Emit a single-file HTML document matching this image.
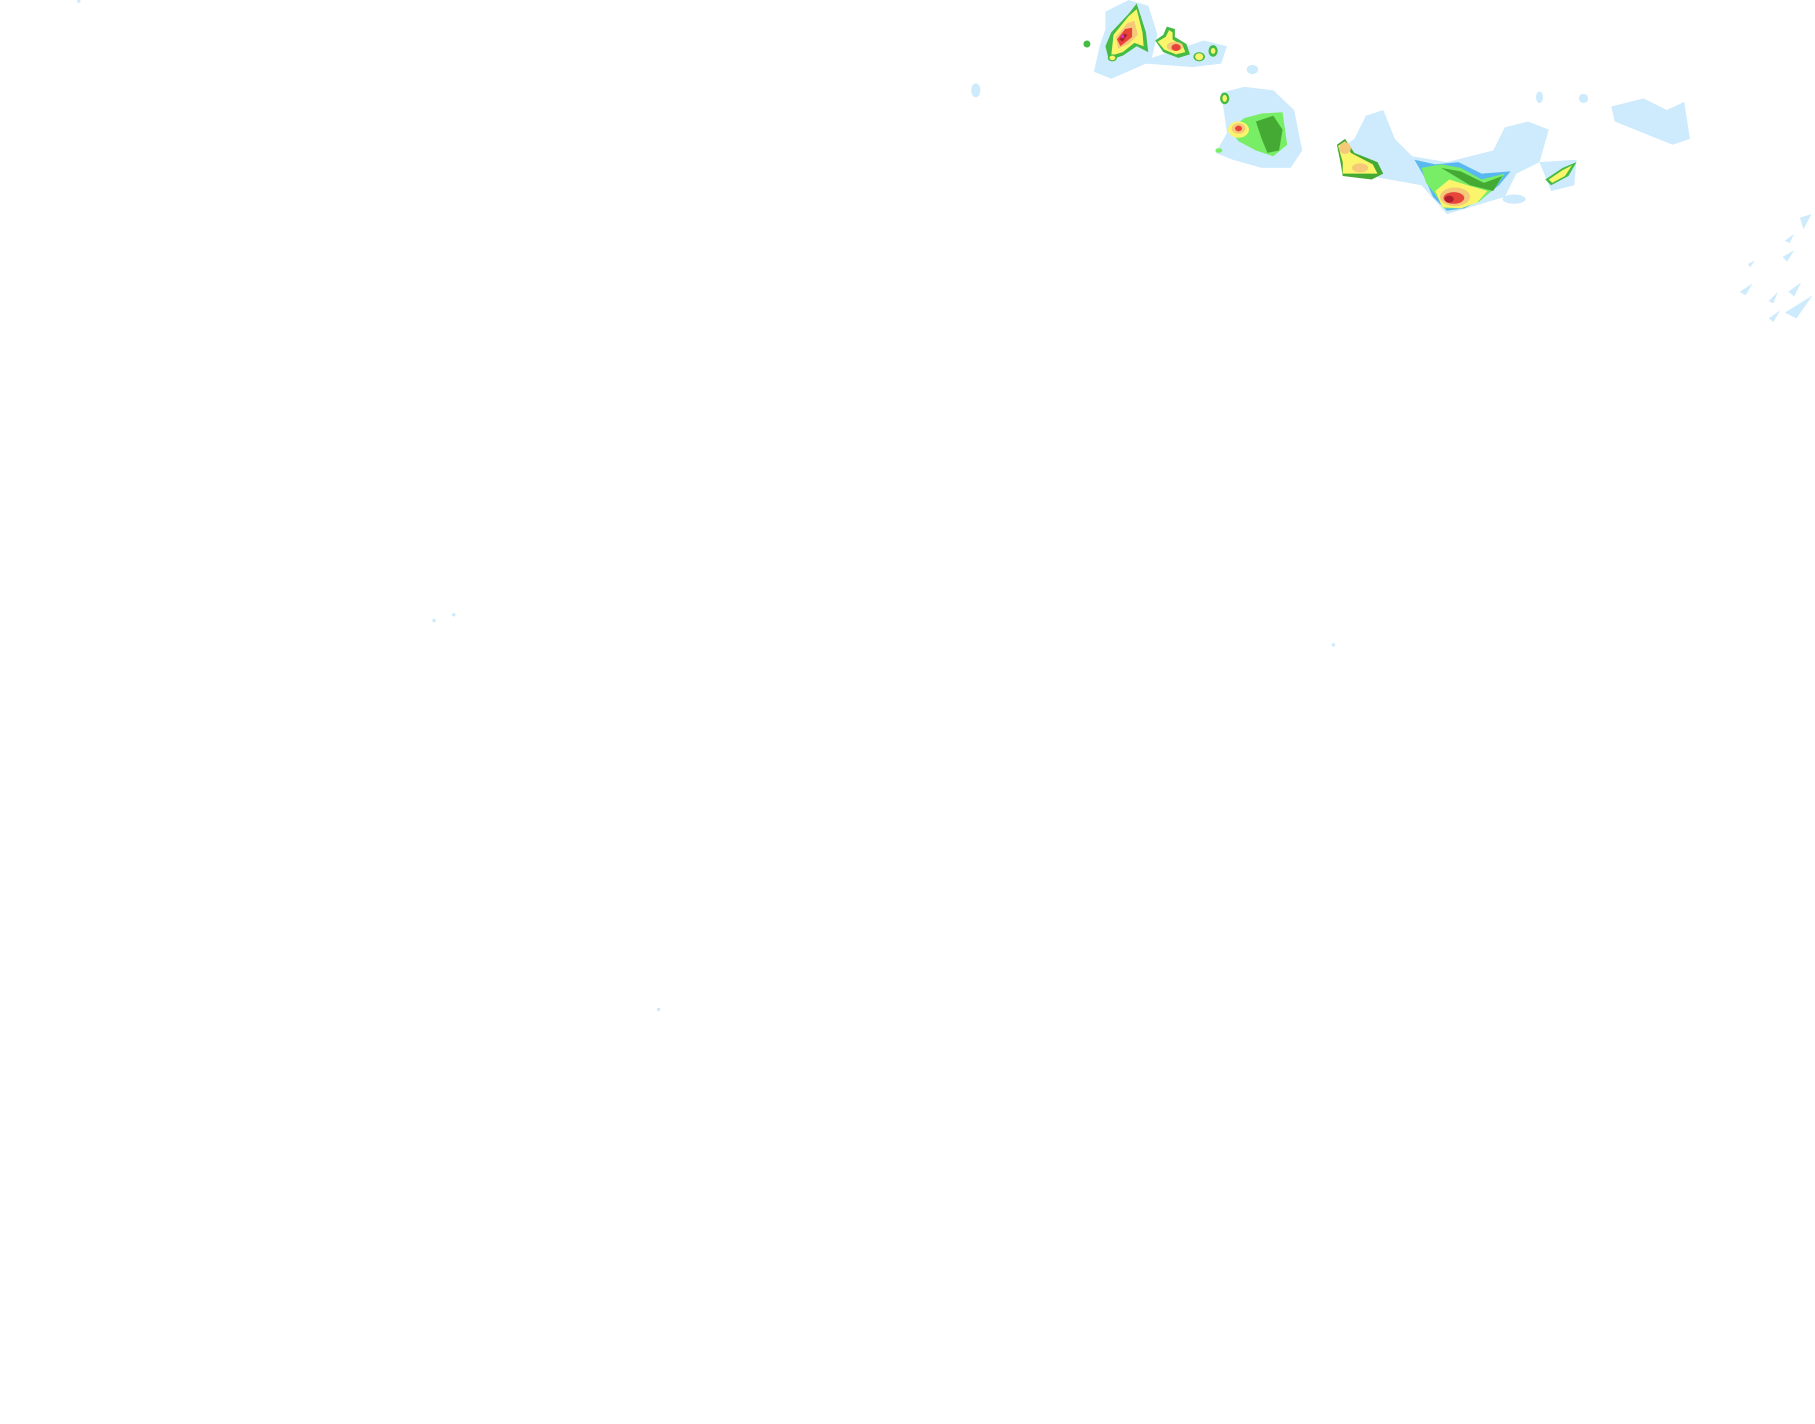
<!DOCTYPE html>
<html><head><style>html,body{margin:0;padding:0;background:#fff;}svg{display:block}</style></head>
<body>
<svg width="1815" height="1424" viewBox="0 0 1568 1230" preserveAspectRatio="none" xmlns="http://www.w3.org/2000/svg">
<rect width="1568" height="1230" fill="#fff"/>
<g fill="#cdebfc">
<path d="M955 10 L975 0 L992 5 L1000 30 L995 50 L1010 45 L1040 35 L1060 40 L1055 55 L1030 58 L990 55 L960 68 L945 62 L950 40 L955 25Z"/>
<path d="M1055 80 L1075 75 L1100 78 L1118 95 L1125 130 L1115 145 L1090 145 L1065 138 L1050 132 L1060 115Z"/>
<path d="M1180 100 L1195 95 L1205 120 L1220 135 L1250 140 L1290 130 L1300 110 L1320 105 L1338 112 L1330 140 L1310 150 L1300 170 L1250 185 L1228 160 L1200 155 L1170 150 L1155 130 L1170 120Z"/>
<path d="M1330 140 L1362 138 L1360 160 L1340 165Z"/>
<path d="M1392 92 L1420 85 L1440 95 L1455 88 L1460 120 L1445 125 L1420 115 L1395 105Z"/>
<ellipse cx="843" cy="78" rx="4" ry="6"/>
<ellipse cx="1308" cy="172" rx="10" ry="4"/>
<ellipse cx="1330" cy="84" rx="3" ry="5"/>
<ellipse cx="1368" cy="85" rx="4" ry="4"/>
<ellipse cx="1082" cy="60" rx="5" ry="4"/>
<path d="M1555 188 L1565 185 L1558 198Z"/>
<path d="M1542 208 L1550 202 L1546 210Z"/>
<path d="M1540 222 L1550 216 L1544 226Z"/>
<path d="M1510 228 L1516 225 L1512 231Z"/>
<path d="M1503 252 L1514 245 L1508 255Z"/>
<path d="M1528 260 L1536 252 L1532 262Z"/>
<path d="M1545 252 L1556 244 L1550 256Z"/>
<path d="M1528 275 L1538 268 L1532 278Z"/>
<path d="M1542 270 L1566 255 L1552 275Z"/>
</g>
<!-- storm 1 -->
<path d="M960 28 L975 12 L982 3 L990 28 L992 45 L982 40 L970 48 L958 52 L955 40Z" fill="#44bb44"/>
<path d="M962 30 L975 14 L982 8 L987 28 L988 40 L980 37 L970 45 L960 48Z" fill="#fbf56c"/>
<path d="M964 32 L974 20 L980 18 L983 30 L975 38 L966 42Z" fill="#f5c87a"/>
<path d="M965 34 L972 25 L978 24 L978 32 L968 40Z" fill="#e8453a"/>
<path d="M967 34 L971 29 L974 30 L970 36Z" fill="#b01e2e"/>
<rect x="969" y="30" width="2" height="3" fill="#d02fe0"/>
<ellipse cx="961" cy="50" rx="4" ry="3" fill="#44bb44"/><ellipse cx="961" cy="50" rx="2.5" ry="2" fill="#fbf56c"/>
<!-- storm 2 -->
<path d="M998 35 L1005 30 L1008 23 L1015 25 L1015 32 L1025 38 L1028 47 L1018 50 L1005 45Z" fill="#44bb44"/>
<path d="M1000 36 L1007 32 L1010 26 L1013 28 L1013 34 L1022 40 L1024 45 L1016 47 L1006 43Z" fill="#fbf56c"/>
<ellipse cx="1015" cy="40" rx="7" ry="4" fill="#f5c87a"/>
<ellipse cx="1016" cy="41" rx="4" ry="3" fill="#e8453a"/>
<ellipse cx="1036" cy="49" rx="5" ry="4" fill="#44bb44"/><ellipse cx="1036" cy="49" rx="3.5" ry="3" fill="#fbf56c"/>
<ellipse cx="1048" cy="44" rx="4" ry="5" fill="#44bb44"/><ellipse cx="1048" cy="44" rx="2" ry="2.5" fill="#fbf56c"/>
<ellipse cx="939" cy="38" rx="3" ry="3" fill="#44bb44"/>
<ellipse cx="1058" cy="85" rx="4" ry="5" fill="#44bb44"/><ellipse cx="1058" cy="85" rx="2" ry="3" fill="#fbf56c"/>
<ellipse cx="1053" cy="130" rx="3" ry="2" fill="#77ee66"/>
<!-- storm 4 -->
<path d="M1062 112 L1075 102 L1090 98 L1108 97 L1112 125 L1100 135 L1085 130 L1070 122Z" fill="#77ee66"/>
<path d="M1085 105 L1100 100 L1108 112 L1105 130 L1095 132 L1090 120Z" fill="#44aa33"/>
<ellipse cx="1070" cy="112" rx="9" ry="7" fill="#fbf56c"/>
<ellipse cx="1070" cy="111" rx="6" ry="4.5" fill="#f5c87a"/>
<ellipse cx="1070" cy="111" rx="3" ry="2.5" fill="#e8453a"/>
<!-- storm 5 -->
<path d="M1155 125 L1162 120 L1170 132 L1190 140 L1195 150 L1185 155 L1160 152 L1158 140Z" fill="#44aa33"/>
<path d="M1156 126 L1162 122 L1167 132 L1186 142 L1190 150 L1160 150 L1160 140Z" fill="#fbf56c"/>
<ellipse cx="1162" cy="128" rx="5" ry="5" fill="#f5c87a"/>
<ellipse cx="1175" cy="145" rx="7" ry="4" fill="#f5c87a"/>
<!-- storm 7 -->
<path d="M1222 138 L1240 142 L1260 140 L1280 150 L1305 148 L1295 160 L1280 172 L1265 180 L1250 182 L1238 170 L1230 152Z" fill="#5ab8f0"/>
<path d="M1228 145 L1245 142 L1262 145 L1280 155 L1300 150 L1292 162 L1278 174 L1262 180 L1248 180 L1240 168 L1232 158Z" fill="#77ee66"/>
<path d="M1245 145 L1262 148 L1282 158 L1298 152 L1290 165 L1270 160Z" fill="#44aa33"/>
<path d="M1240 165 L1252 155 L1268 160 L1285 165 L1276 175 L1262 180 L1246 179Z" fill="#fbf56c"/>
<ellipse cx="1257" cy="170" rx="13" ry="8" fill="#f5c87a"/>
<ellipse cx="1256" cy="171" rx="9" ry="5" fill="#e8453a"/>
<ellipse cx="1252" cy="172" rx="4" ry="3" fill="#b01e2e"/>
<!-- storm 8 -->
<path d="M1335 155 L1350 145 L1362 140 L1355 152 L1340 160Z" fill="#44bb44"/>
<path d="M1338 155 L1350 147 L1358 143 L1352 152 L1341 158Z" fill="#fbf56c"/>
<circle cx="68" cy="1" r="1.5" fill="#cdebfc"/>
<circle cx="375" cy="536" r="1.5" fill="#cdebfc"/>
<circle cx="392" cy="531" r="1.5" fill="#cdebfc"/>
<circle cx="1152" cy="557" r="1.5" fill="#cdebfc"/>
<circle cx="569" cy="872" r="1.5" fill="#cdebfc"/>
</svg>
</body></html>
